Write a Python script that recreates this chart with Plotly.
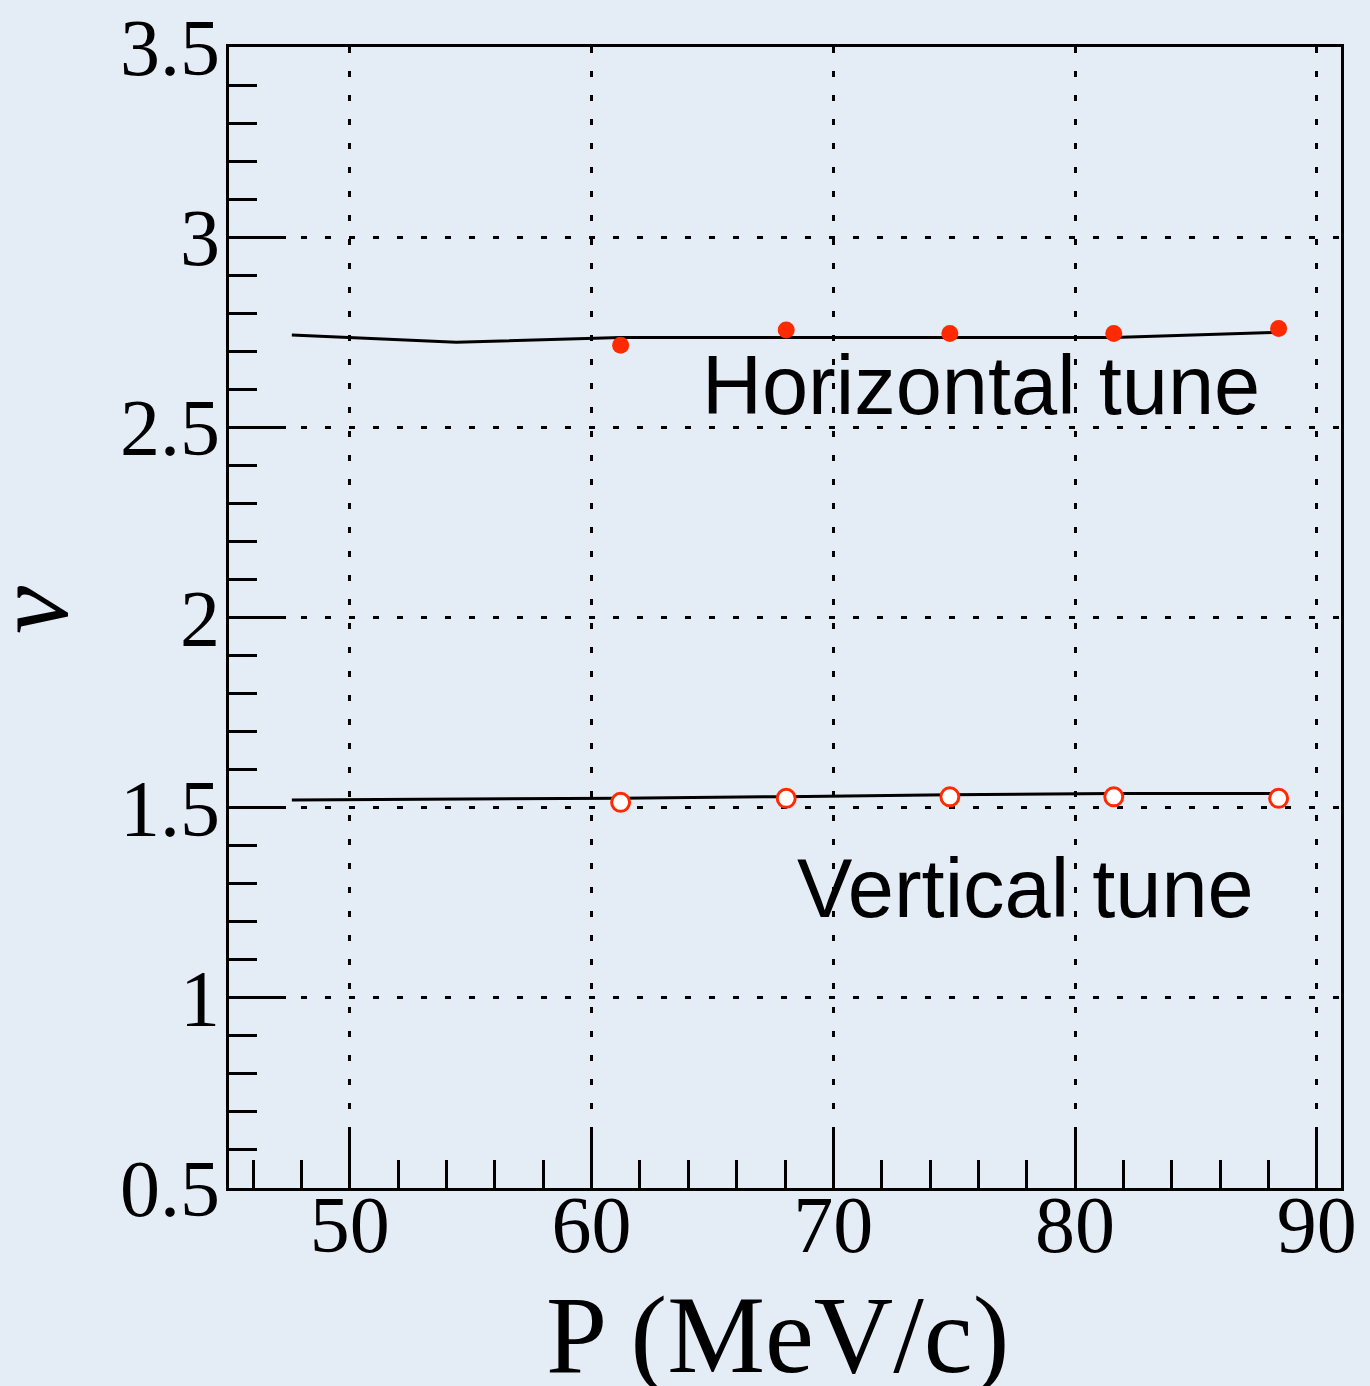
import plotly.graph_objects as go

# Data
line_p = [47.6, 54.4, 61.2, 68.0, 74.8, 81.6, 88.4]
line_h = [2.743, 2.724, 2.736, 2.736, 2.736, 2.736, 2.750]
line_v = [1.520, 1.522, 1.525, 1.529, 1.534, 1.537, 1.537]

meas_p = [61.2, 68.05, 74.82, 81.6, 88.42]
meas_h = [2.716, 2.756, 2.747, 2.747, 2.760]
meas_v = [1.514, 1.5245, 1.5285, 1.5285, 1.5245]

x_tick_vals = [50, 60, 70, 80, 90]
x_tick_text = ["50", "60", "70", "80", "90"]
y_tick_vals = [0.5, 1.0, 1.5, 2.0, 2.5, 3.0, 3.5]
y_tick_text = ["0.5", "1", "1.5", "2", "2.5", "3", "3.5"]

BG = "#e4ecf6"
RED = "#ff2a00"
SERIF = "Liberation Serif, Times New Roman, serif"
SANS = "Liberation Sans, Arial, sans-serif"

fig = go.Figure()
fig.add_trace(go.Scatter(x=line_p, y=line_h, mode="lines",
                         line=dict(color="black", width=3), showlegend=False))
fig.add_trace(go.Scatter(x=line_p, y=line_v, mode="lines",
                         line=dict(color="black", width=3), showlegend=False))
fig.add_trace(go.Scatter(x=meas_p, y=meas_h, mode="markers",
                         marker=dict(color=RED, size=17, line=dict(width=0)),
                         showlegend=False))
fig.add_trace(go.Scatter(x=meas_p, y=meas_v, mode="markers",
                         marker=dict(color="white", size=18,
                                     line=dict(color=RED, width=3)),
                         showlegend=False))

axis_common = dict(
    showline=True, linecolor="black", linewidth=3, mirror=True,
    ticks="inside", ticklen=57, tickwidth=2.5, tickcolor="black",
    showgrid=True, gridcolor="black", gridwidth=2.5, griddash="6px,18px",
    zeroline=False, automargin=False,
    tickfont=dict(family=SERIF, size=80, color="black"),
)

fig.update_xaxes(range=[45, 91], tickmode="array", tickvals=x_tick_vals,
                 ticktext=x_tick_text, ticklabelstandoff=-35,
                 minor=dict(dtick=2, tick0=50, ticks="inside", ticklen=28,
                            tickwidth=2.5, tickcolor="black", showgrid=False),
                 **axis_common)
fig.update_yaxes(range=[0.5, 3.5], tickmode="array", tickvals=y_tick_vals,
                 ticktext=y_tick_text, ticklabelstandoff=-10,
                 minor=dict(dtick=0.1, tick0=0.5, ticks="inside", ticklen=28,
                            tickwidth=2.5, tickcolor="black", showgrid=False),
                 **axis_common)

fig.update_layout(
    width=1370, height=1386,
    margin=dict(l=229, r=29, t=47, b=198),
    paper_bgcolor=BG, plot_bgcolor=BG,
)
fig.add_annotation(text="Horizontal tune", x=64.5, y=2.61, xref="x", yref="y",
                   xanchor="left", yanchor="middle", showarrow=False,
                   font=dict(family=SANS, size=83, color="black"))
fig.add_annotation(text="Vertical tune", x=68.43, y=1.287, xref="x", yref="y",
                   xanchor="left", yanchor="middle", showarrow=False,
                   font=dict(family=SANS, size=83, color="black"))
# Axis titles as annotations (paper coordinates)
fig.add_annotation(text="P (MeV/c)", xref="paper", yref="paper",
                   x=(777 - 229) / (1341 - 229), y=-(1335 - 1188) / (1188 - 47),
                   xanchor="center", yanchor="middle", showarrow=False,
                   font=dict(family=SERIF, size=110, color="black"))
fig.add_annotation(text="<i>ν</i>", xref="paper", yref="paper",
                   x=-(229 - 30) / (1341 - 229), y=(1188 - 610) / (1188 - 47),
                   xanchor="center", yanchor="middle", textangle=-90,
                   showarrow=False,
                   font=dict(family=SERIF, size=108, color="black"))

fig.write_html("out.html")
